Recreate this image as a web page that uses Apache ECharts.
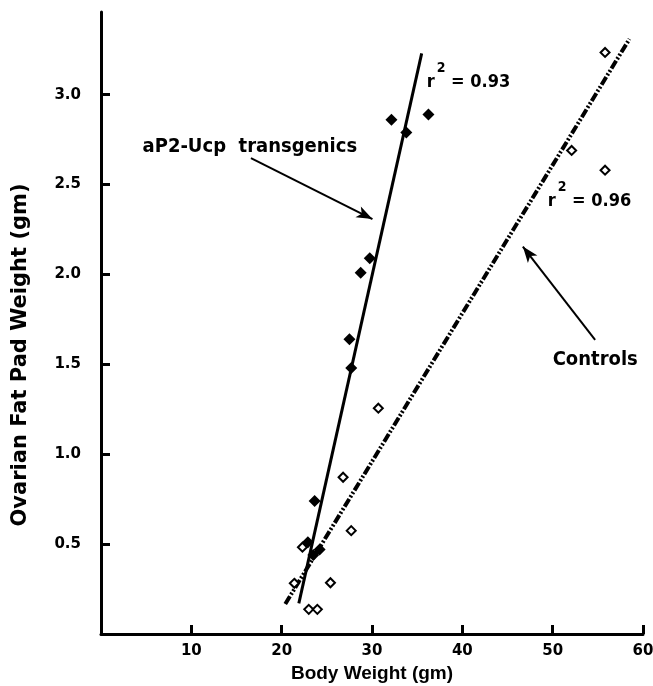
<!DOCTYPE html>
<html>
<head>
<meta charset="utf-8">
<script src="https://cdn.jsdelivr.net/npm/echarts@6/dist/echarts.min.js"></script>
<style>
    html, body { margin: 0; padding: 0; background: #fff; }
    #chart { width: 653px; height: 686px; }
</style>
</head>
<body>
<div id="chart"></div>
<script>
// transgenic mice (filled diamonds)
const transX = [32.15, 33.8, 36.25, 29.75, 28.75, 27.5, 27.7, 23.65, 22.9, 24.2, 23.5];
const transY = [2.86, 2.79, 2.89, 2.09, 2.01, 1.64, 1.48, 0.74, 0.51, 0.47, 0.44];
// controls (open diamonds)
const ctrlX = [55.8, 52.1, 55.8, 30.7, 26.8, 27.7, 22.3, 21.4, 25.4, 23.0, 23.95];
const ctrlY = [3.235, 2.69, 2.58, 1.256, 0.872, 0.575, 0.483, 0.282, 0.285, 0.137, 0.137];
// regression lines (end points)
const transFitX = [21.9, 35.5];
const transFitY = [0.17, 3.23];
const ctrlFitX = [20.4, 58.5];
const ctrlFitY = [0.167, 3.31];
// ticks
const xTicks = [10, 20, 30, 40, 50, 60];
const yTicks = [0.5, 1.0, 1.5, 2.0, 2.5, 3.0];

const pairs = (xs, ys) => xs.map((x, i) => [x, ys[i]]);

const font = "'Liberation Sans', Arial, sans-serif";
const wide = "'DejaVu Sans', sans-serif";
const narrow = "'Liberation Sans Narrow', 'DejaVu Sans Condensed', sans-serif";

function note(name, pos, text, rich) {
    return {
        name: name,
        type: "scatter",
        silent: true,
        symbolSize: 0,
        data: [pos],
        z: 5,
        itemStyle: { opacity: 1 },
        label: {
            show: true,
            position: "right",
            distance: 0,
            formatter: text,
            color: "#000",
            opacity: 1,
            fontFamily: narrow,
            fontWeight: "bold",
            fontSize: 20,
            rich: rich
        }
    };
}

const rSq = {
    r: { fontFamily: narrow, fontWeight: "bold", fontSize: 18, color: "#000", verticalAlign: "bottom", lineHeight: 30 },
    s: { fontFamily: narrow, fontWeight: "bold", fontSize: 14, color: "#000", verticalAlign: "top", lineHeight: 30, padding: [0, 0, 0, 2] }
};

function arrow(from, to) {
    return {
        silent: true,
        symbol: ["none", "arrow"],
        symbolSize: [9, 16],
        label: { show: false },
        lineStyle: { color: "#000", width: 2, type: "solid", opacity: 1 },
        data: [[{ coord: from }, { coord: to }]]
    };
}

const chart = echarts.init(document.getElementById("chart"));
chart.setOption({
    animation: false,
    backgroundColor: "#fff",
    grid: { left: 101, right: 10, top: 12, bottom: 52, containLabel: false, outerBoundsMode: "none" },
    xAxis: {
        type: "value",
        min: 0,
        max: 60,
        interval: 10,
        name: "Body Weight (gm)",
        nameLocation: "middle",
        nameGap: 28,
        nameTextStyle: { fontFamily: font, fontWeight: "bold", fontSize: 19, color: "#000" },
        axisLine: { lineStyle: { color: "#000", width: 3 } },
        axisTick: { inside: true, length: 9, lineStyle: { color: "#000", width: 3 }, customValues: xTicks },
        axisLabel: { customValues: xTicks, margin: 10, fontFamily: wide, fontWeight: "bold", fontSize: 15, color: "#000" },
        splitLine: { show: false }
    },
    yAxis: {
        type: "value",
        min: 0,
        max: 3.46,
        interval: 0.5,
        name: "Ovarian Fat Pad Weight (gm)",
        nameLocation: "middle",
        nameGap: 70,
        nameTextStyle: {
            fontFamily: wide,
            fontWeight: "bold",
            fontSize: 21,
            color: "#000",
            padding: [0, 64, 0, 0]
        },
        axisLine: { lineStyle: { color: "#000", width: 3 } },
        axisTick: { inside: true, length: 9, lineStyle: { color: "#000", width: 3 }, customValues: yTicks },
        axisLabel: {
            customValues: yTicks,
            margin: 20,
            fontFamily: wide,
            fontWeight: "bold",
            fontSize: 15,
            color: "#000",
            formatter: (v) => v.toFixed(1)
        },
        splitLine: { show: false }
    },
    series: [
        {
            name: "transgenic fit",
            type: "line",
            data: pairs(transFitX, transFitY),
            symbol: "none",
            z: 2,
            lineStyle: { color: "#000", width: 3 },
            markLine: arrow([16.6, 2.647], [30.05, 2.308])
        },
        {
            name: "control fit",
            type: "line",
            data: pairs(ctrlFitX, ctrlFitY),
            symbol: "none",
            z: 2,
            lineStyle: { color: "#000", width: 4, type: [9, 2, 2, 2, 2, 2] },
            markLine: arrow([54.7, 1.636], [46.7, 2.155])
        },
        {
            name: "aP2-Ucp transgenics",
            type: "scatter",
            data: pairs(transX, transY),
            symbol: "diamond",
            symbolSize: 12,
            z: 4,
            itemStyle: { color: "#000", opacity: 1 }
        },
        {
            name: "Controls",
            type: "scatter",
            data: pairs(ctrlX, ctrlY),
            symbol: "diamond",
            symbolSize: 9,
            z: 4,
            itemStyle: { color: "#fff", borderColor: "#000", borderWidth: 2, opacity: 1 }
        },
        note("label transgenics", [4.6, 2.71], "aP2-Ucp  transgenics"),
        note("label controls", [50.0, 1.525], "Controls"),
        note("r2 transgenics", [36.05, 3.1], "{r|r}{s|2}{r| = 0.93}", rSq),
        note("r2 controls", [49.45, 2.44], "{r|r}{s|2}{r| = 0.96}", rSq)
    ]
});
</script>
</body>
</html>
